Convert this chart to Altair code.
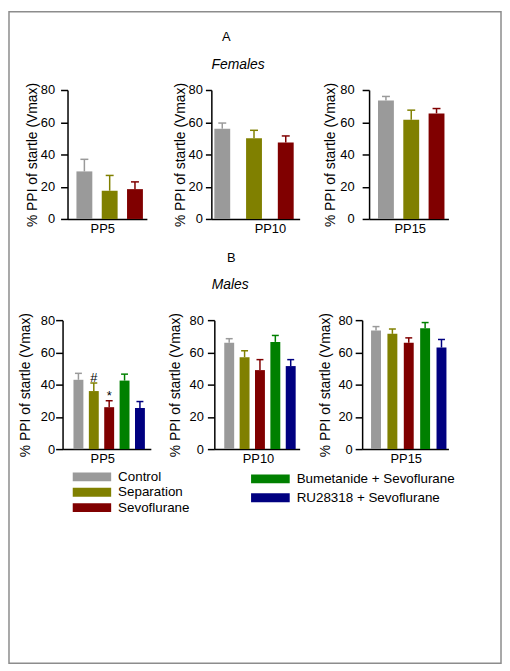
import altair as alt
import pandas as pd

FONT = "Liberation Sans"

# ---------------- data ----------------
groups = ["Control", "Separation", "Sevoflurane",
          "Bumetanide + Sevoflurane", "RU28318 + Sevoflurane"]
colors = ["#9a9a9a", "#808000", "#800000", "#008000", "#000080"]
stimuli = ["PP5", "PP10", "PP15"]
y_ticks = [0, 20, 40, 60, 80]
y_title = "% PPI of startle (Vmax)"
titles = ["A", "Females", "B", "Males"]

female_pp5_mean = [29.5, 17.5, 18.5]
female_pp5_sem = [7.5, 9.5, 4.5]
female_pp10_mean = [56.0, 50.0, 47.5]
female_pp10_sem = [3.5, 5.0, 4.0]
female_pp15_mean = [73.5, 61.5, 65.5]
female_pp15_sem = [2.5, 6.0, 3.0]

male_pp5_mean = [43.0, 36.0, 26.0, 42.5, 25.5]
male_pp5_sem = [4.0, 5.0, 4.0, 4.0, 4.0]
male_pp10_mean = [66.0, 57.0, 49.0, 66.5, 51.5]
male_pp10_sem = [2.5, 4.0, 6.5, 4.0, 4.0]
male_pp15_mean = [73.5, 71.5, 66.0, 75.0, 63.0]
male_pp15_sem = [2.5, 3.0, 3.0, 3.5, 5.0]
male_pp5_signif = ["", "#", "*", "", ""]

# ---------------- layout (styles, page pixels) ----------------
OFF = 9  # 8px page margin + 1px padding
W, H = 496, 657

panels = [
    dict(x0=68, x1=148, y0=218, y1=88, n=3, step=25.5, bw=16, first=77, cap=8,
         tick=7, lpad=6, tpad=1, tx=103),
    dict(x0=213, x1=302, y0=218, y1=88, n=3, step=32, bw=16, first=216, cap=8,
         tick=6, lpad=3, tpad=1, tx=272),
    dict(x0=372, x1=452, y0=218, y1=88, n=3, step=25.5, bw=16, first=381, cap=8,
         tick=7, lpad=8, tpad=2, tx=413),
    dict(x0=63, x1=152, y0=450, y1=320, n=5, step=15.5, bw=10, first=74, cap=7,
         tick=7, lpad=1, tpad=8, tx=103),
    dict(x0=216, x1=302, y0=450, y1=320, n=5, step=15.5, bw=10, first=226, cap=7,
         tick=7, lpad=4, tpad=7, tx=260),
    dict(x0=365, x1=452, y0=450, y1=320, n=5, step=16.5, bw=10, first=374, cap=7,
         tick=7, lpad=3, tpad=5, tx=409),
]

sym_path = "M-1,-0.23H1V0.23H-1Z"
legend1 = alt.Legend(title=None, orient="none", legendX=73 - OFF, legendY=478 - OFF - 6.5,
                     symbolType=sym_path, symbolSize=1521, symbolStrokeWidth=0,
                     clipHeight=13, rowPadding=1.5, labelOffset=7, padding=0,
                     labelFontSize=13.5, labelFont=FONT, labelColor="black")
legend2 = alt.Legend(title=None, orient="none", legendX=253 - OFF, legendY=480 - OFF - 6.5,
                     symbolType=sym_path, symbolSize=1521, symbolStrokeWidth=0,
                     clipHeight=13, rowPadding=5, labelOffset=7, padding=0,
                     labelFontSize=13.5, labelFont=FONT, labelColor="black")


def band_scale(p):
    n, step, bw = p["n"], p["step"], p["bw"]
    rng = p["x1"] - p["x0"]
    pi = 1 - bw / step
    po = (rng / step - n + pi) / 2
    span = step * (n - 1) + bw
    align = (p["first"] - p["x0"]) / (rng - span)
    return alt.Scale(domain=groups[:n], range=[p["x0"] - OFF, p["x1"] - OFF],
                     paddingInner=pi, paddingOuter=po, align=align, round=False)


def make_panel(means, sems, p, stim, signif=None):
    n = len(means)
    df = pd.DataFrame({
        "group": groups[:n],
        "mean": means,
        "upper": [m + s for m, s in zip(means, sems)],
    })
    if signif is not None:
        df["signif"] = signif
    x = alt.X("group:N", scale=band_scale(p),
              axis=alt.Axis(orient="bottom", labels=False, ticks=False, domain=True,
                            domainColor="black", domainWidth=1.5,
                            title=stim, titleFontSize=13, titleFontWeight="normal",
                            titleFont=FONT, titleColor="black", titlePadding=4,
                            titleX=p["tx"] - OFF, offset=(p["y0"] - OFF) - H))
    y = alt.Y("mean:Q",
              scale=alt.Scale(domain=[0, 80], range=[p["y0"] - OFF, p["y1"] - OFF],
                              nice=False, zero=True),
              axis=alt.Axis(orient="left", values=y_ticks, grid=False,
                            tickSize=p["tick"], tickWidth=1.5, tickColor="black",
                            domainColor="black", domainWidth=1.5,
                            labelFontSize=13, labelFont=FONT, labelColor="black",
                            labelPadding=p["lpad"],
                            title=y_title, titleFontSize=14, titleFontWeight="normal",
                            titleFont=FONT, titleColor="black", titlePadding=p["tpad"],
                            offset=-(p["x0"] - OFF)))
    base = alt.Chart(df)
    layers = [
        base.transform_filter(alt.FieldOneOfPredicate(field="group", oneOf=groups[:3]))
        .mark_bar()
        .encode(x=x, y=y,
                fill=alt.Fill("group:N", scale=alt.Scale(domain=groups[:3], range=colors[:3]),
                              legend=legend1))
    ]
    if n > 3:
        layers.append(
            base.transform_filter(alt.FieldOneOfPredicate(field="group", oneOf=groups[3:]))
            .mark_bar()
            .encode(x=x, y=y,
                    color=alt.Color("group:N",
                                    scale=alt.Scale(domain=groups[3:], range=colors[3:]),
                                    legend=legend2))
        )
    stroke = alt.Stroke("group:N", scale=alt.Scale(domain=groups, range=colors), legend=None)
    layers.append(base.mark_rule(strokeWidth=1.5).encode(x=x, y="mean:Q", y2="upper:Q",
                                                         stroke=stroke))
    layers.append(base.mark_point(shape="stroke", filled=False, strokeWidth=1.5,
                                  size=p["cap"] ** 2, opacity=1)
                  .encode(x=x, y="upper:Q", stroke=stroke))
    if signif is not None:
        layers.append(base.mark_text(baseline="alphabetic", dy=-1, fontSize=13, font=FONT,
                                     color="black")
                      .encode(x=x, y="upper:Q", text="signif:N"))
    return alt.layer(*layers)


female = [(female_pp5_mean, female_pp5_sem), (female_pp10_mean, female_pp10_sem),
          (female_pp15_mean, female_pp15_sem)]
male = [(male_pp5_mean, male_pp5_sem), (male_pp10_mean, male_pp10_sem),
        (male_pp15_mean, male_pp15_sem)]

panel_charts = []
for i, (m, s) in enumerate(female):
    panel_charts.append(make_panel(m, s, panels[i], stimuli[i]))
for i, (m, s) in enumerate(male):
    panel_charts.append(make_panel(m, s, panels[3 + i], stimuli[i],
                                   signif=male_pp5_signif if i == 0 else None))

one = alt.Data(values=[{}])
title_pos = [(228, 35, "normal", 13), (240, 63, "italic", 14),
             (233, 257, "normal", 13), (232, 285, "italic", 14)]
title_charts = []
for t, (px, py, style, fs) in zip(titles, title_pos):
    title_charts.append(
        alt.Chart(one).mark_text(text=t, fontSize=fs, fontStyle=style, font=FONT,
                                 color="black", align="center", baseline="middle")
        .encode(x=alt.value(px - OFF), y=alt.value(py - OFF))
    )

chart = (
    alt.layer(*panel_charts, *title_charts)
    .resolve_scale(x="independent", y="independent")
    .resolve_axis(x="independent", y="independent")
    .properties(width=W, height=H, autosize=alt.AutoSizeParams(type="none"),
                padding={"left": 1, "top": 1, "right": 1, "bottom": 1})
    .configure_view(stroke="#8c8c8c", strokeWidth=1.5)
    .configure_axis(grid=False)
)

chart.save("out.html", embed_options={"renderer": "svg", "actions": False})
